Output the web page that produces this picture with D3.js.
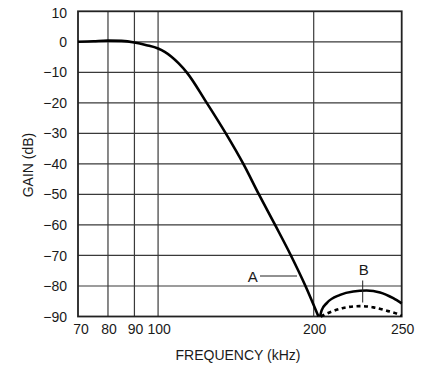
<!DOCTYPE html>
<html>
<head>
<meta charset="utf-8">
<script src="https://cdn.jsdelivr.net/npm/d3@7"></script>
<style>
  html, body { margin: 0; padding: 0; background: #fff; }
  svg { display: block; font-family: "Liberation Sans", Arial, Helvetica, sans-serif; }
</style>
</head>
<body>
<svg id="chart" width="435" height="373"></svg>
<script>
// ---- data ----
const xTicks = [70, 80, 90, 100, 200, 250];
const yTicks = [10, 0, -10, -20, -30, -40, -50, -60, -70, -80, -90];

const freqA = [70, 75, 80, 85, 90, 95, 100, 103, 106, 109.5, 113.6, 124.2, 135.2, 146.2, 156.7, 168.4, 180.7, 192.8, 202.7];
const gainA = [0, 0.2, 0.4, 0.3, -0.2, -1.1, -2.2, -3.3, -4.8, -7, -10, -20, -30, -40, -50, -60, -70, -80, -90];

const freqB = [203.6, 204.5, 207.4, 215, 222.5, 230, 237.7, 245.2, 250];
const gainB = [-90, -88, -85.6, -82.9, -81.8, -81.5, -82.1, -84.0, -85.7];

const freqBd = [204, 209.3, 216.8, 226.3, 233.9, 241.5, 249, 250];
const gainBd = [-90, -88.6, -87.2, -86.6, -87.0, -88.1, -89.5, -89.8];

const xLabel = "FREQUENCY (kHz)";
const yLabel = "GAIN (dB)";

// ---- layout ----
const L = 78, R = 401.7, T = 11.3, B = 316.5, xBreak = 313.7;

const svg = d3.select("#chart");

// piecewise x scale: log 70..200, linear 200..250
const xLog = d3.scaleLog().domain([70, 200]).range([L, xBreak]);
const xLin = d3.scaleLinear().domain([200, 250]).range([xBreak, R]);
const x = f => (f <= 200 ? xLog(f) : xLin(f));
const y = d3.scaleLinear().domain([-90, 10]).range([B, T]);

const fmt = d3.format("d");

// gridlines
const grid = svg.append("g").attr("stroke", "#3a3a3a").attr("stroke-width", 1.2);
grid.selectAll("line.h").data(yTicks.slice(1, -1)).join("line")
  .attr("x1", L).attr("x2", R)
  .attr("y1", d => y(d)).attr("y2", d => y(d));
grid.selectAll("line.v").data(xTicks.slice(1, -1)).join("line")
  .attr("y1", T).attr("y2", B)
  .attr("x1", d => x(d)).attr("x2", d => x(d));

// frame
svg.append("rect")
  .attr("x", L).attr("y", T)
  .attr("width", R - L).attr("height", B - T)
  .attr("fill", "none").attr("stroke", "#222").attr("stroke-width", 1.8);

// y tick labels
svg.append("g").selectAll("text").data(yTicks).join("text")
  .attr("x", 67)
  .attr("y", d => y(d) + (d === 10 ? 2 : 0))
  .attr("dy", "0.36em")
  .attr("text-anchor", "end")
  .attr("font-size", 14)
  .attr("fill", "#1a1a1a")
  .text(d => fmt(d));

// x tick labels
svg.append("g").selectAll("text").data(xTicks).join("text")
  .attr("x", d => x(d) + (d === 70 ? 3 : 1))
  .attr("y", 334.3)
  .attr("text-anchor", "middle")
  .attr("font-size", 14)
  .attr("fill", "#1a1a1a")
  .text(d => fmt(d));

// axis titles
svg.append("text")
  .attr("x", 238).attr("y", 360)
  .attr("text-anchor", "middle")
  .attr("font-size", 14)
  .attr("fill", "#1a1a1a")
  .text(xLabel);

svg.append("text")
  .attr("transform", "translate(33,165) rotate(-90)")
  .attr("text-anchor", "middle")
  .attr("font-size", 14)
  .attr("fill", "#1a1a1a")
  .text(yLabel);

// curves
const line = d3.line()
  .x(d => x(d[0]))
  .y(d => y(d[1]))
  .curve(d3.curveMonotoneX);

const dataA = freqA.map((f, i) => [f, gainA[i]]);
const dataB = freqB.map((f, i) => [f, gainB[i]]);
const dataBd = freqBd.map((f, i) => [f, gainBd[i]]);

svg.append("path").datum(dataA)
  .attr("d", line).attr("fill", "none")
  .attr("stroke", "#000").attr("stroke-width", 2.6)
  .attr("stroke-linejoin", "round");

svg.append("path").datum(dataB)
  .attr("d", line).attr("fill", "none")
  .attr("stroke", "#000").attr("stroke-width", 2.6)
  .attr("stroke-linejoin", "round");

svg.append("path").datum(dataBd)
  .attr("d", line).attr("fill", "none")
  .attr("stroke", "#000").attr("stroke-width", 2.6)
  .attr("stroke-dasharray", "4,3.5");

// annotations
svg.append("line")
  .attr("x1", 260).attr("x2", 297).attr("y1", 276).attr("y2", 276)
  .attr("stroke", "#222").attr("stroke-width", 1);
svg.append("text")
  .attr("x", 252.8).attr("y", 281.7)
  .attr("text-anchor", "middle")
  .attr("font-size", 15)
  .attr("fill", "#1a1a1a")
  .text("A");

svg.append("line")
  .attr("x1", 362.7).attr("x2", 362.7).attr("y1", 280.5).attr("y2", 302.5)
  .attr("stroke", "#222").attr("stroke-width", 1);
svg.append("text")
  .attr("x", 363.8).attr("y", 275)
  .attr("text-anchor", "middle")
  .attr("font-size", 15)
  .attr("fill", "#1a1a1a")
  .text("B");
</script>
</body>
</html>
